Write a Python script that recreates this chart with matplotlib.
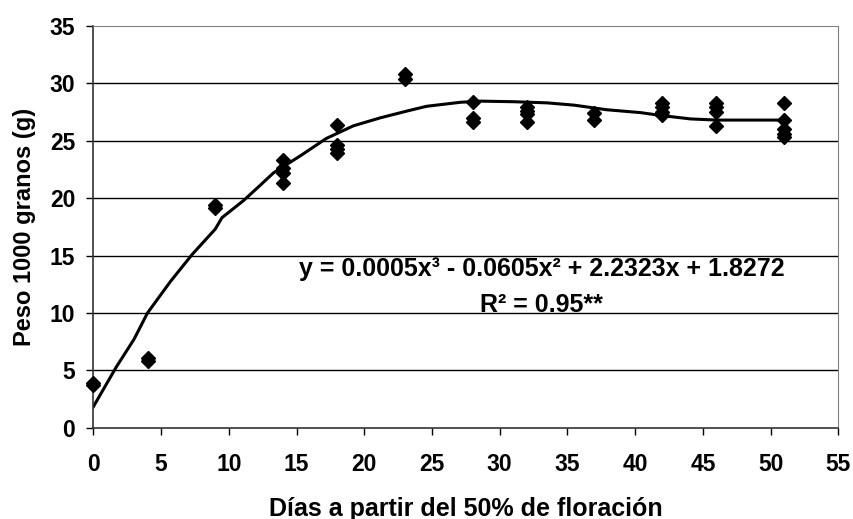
import numpy as np
import matplotlib
matplotlib.use('Agg')
import matplotlib.pyplot as plt

plt.rcParams['font.family'] = ['Liberation Sans', 'DejaVu Sans']
plt.rcParams['font.weight'] = 'bold'

# observed points (days, thousand-grain weight)
dias = [0, 0, 4, 4, 9, 9,
        14, 14, 14, 14, 18, 18, 18, 18,
        23, 23, 28, 28, 28, 32, 32, 32, 32,
        37, 37, 42, 42, 42, 42, 46, 46, 46, 46,
        51, 51, 51, 51, 51]
peso = [3.7, 3.9, 5.8, 6.1, 19.1, 19.4,
        23.3, 22.6, 22.2, 21.3, 26.4, 24.6, 24.3, 23.9,
        30.8, 30.4, 28.4, 27.0, 26.6, 27.9, 27.6, 27.3, 26.6,
        27.4, 26.8, 28.3, 27.9, 27.5, 27.2, 28.3, 27.9, 27.5, 26.3,
        28.3, 26.8, 26.0, 25.6, 25.3]

# fitted curve as drawn in the original
curva_x = [0, 1.7, 3.0, 4.0, 5.7, 7.3, 9.0, 9.5, 11.1, 12.3, 13.3, 15.3,
           17.2, 19.2, 21.2, 23.2, 24.6, 27.1, 28.6, 31.0, 33.5, 35.5,
           37.9, 40.4, 41.9, 44.1, 46.0, 51.0]
curva_y = [1.83, 5.3, 7.7, 10.0, 12.75, 15.1, 17.3, 18.3, 19.8, 21.1, 22.2,
           23.7, 25.2, 26.3, 27.0, 27.6, 28.0, 28.35, 28.45, 28.4, 28.3,
           28.1, 27.7, 27.45, 27.2, 26.9, 26.8, 26.8]

ecuacion = 'y = 0.0005x\u00b3 - 0.0605x\u00b2 + 2.2323x + 1.8272'
r2 = 'R\u00b2 = 0.95**'

fig = plt.figure(figsize=(8.54, 5.19), dpi=100)
ax = fig.add_axes([0.1093, 0.1759, 0.8723, 0.7741])

for y in range(5, 35, 5):
    ax.axhline(y, color='black', lw=1, zorder=1)

ax.plot(curva_x, curva_y, color='black', lw=2.2, zorder=2)
ax.plot(dias, peso, 'D', color='black', ms=6.8, clip_on=False, zorder=3)

ax.set_xlim(0, 55)
ax.set_ylim(0, 35)
ax.set_xticks(range(0, 56, 5))
ax.set_yticks(range(0, 36, 5))
ax.tick_params(direction='out', length=5, width=1, labelsize=16.5)
ax.tick_params(axis='y', pad=8)
ax.tick_params(axis='x', pad=13)
for lab in ax.get_xticklabels() + ax.get_yticklabels():
    lab.set_fontweight('bold')

for s in ['top', 'right']:
    ax.spines[s].set_color('#808080')
for s in ['left', 'bottom']:
    ax.spines[s].set_color('#333333')
    ax.spines[s].set_linewidth(1.2)

ax.set_xlabel('Días a partir del 50% de floración', fontsize=18,
              fontweight='bold', labelpad=15)
ax.set_ylabel('Peso 1000 granos (g)', fontsize=17, fontweight='bold',
              labelpad=10)

ax.text(33.1, 13.8, ecuacion, ha='center', va='center', fontsize=18,
        fontweight='bold')
ax.text(33.1, 10.7, r2, ha='center', va='center', fontsize=18,
        fontweight='bold')

fig.savefig('out.png', dpi=100)
